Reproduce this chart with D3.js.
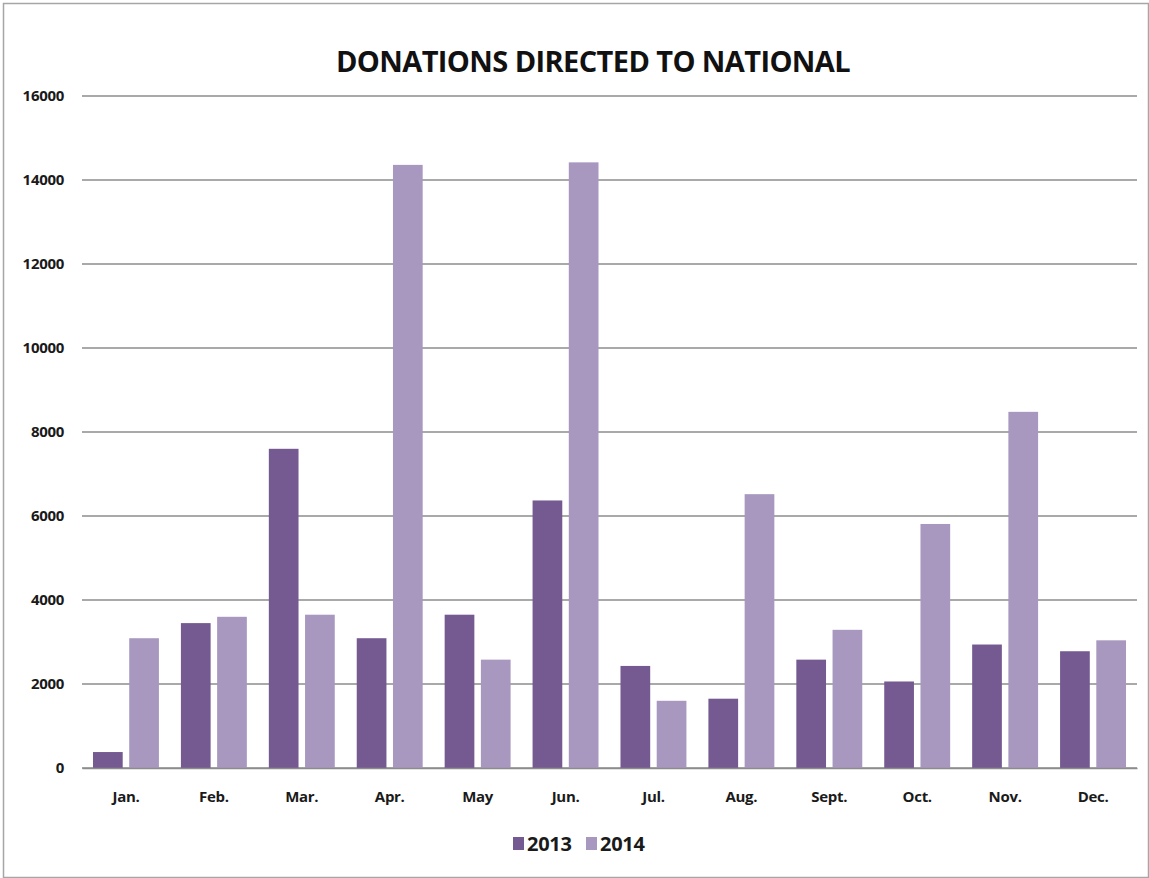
<!DOCTYPE html>
<html>
<head>
<meta charset="utf-8">
<script src="https://cdn.jsdelivr.net/npm/d3@7"></script>
<style>
  body { margin: 0; background: #fff; }
  text { font-family: 'Open Sans', 'DejaVu Sans', sans-serif; }
</style>
</head>
<body>
<div id="viz"></div>
<script>
(function donationsChart() {
  const width = 1149;
  const height = 878;
  const margin = { top: 96, right: 12, bottom: 110, left: 82 };

  const darkColor = '#755a92';
  const lightColor = '#a898c0';
  const gridColor = '#8c8c8c';
  const textColor = '#1a1a1a';

  const months = ['Jan.', 'Feb.', 'Mar.', 'Apr.', 'May', 'Jun.', 'Jul.', 'Aug.', 'Sept.', 'Oct.', 'Nov.', 'Dec.'];
  const series = ['2013', '2014'];
  const values2013 = [380, 3450, 7600, 3090, 3650, 6370, 2430, 1650, 2580, 2060, 2940, 2780];
  const values2014 = [3090, 3600, 3650, 14360, 2580, 14420, 1600, 6520, 3290, 5810, 8480, 3040];
  const yTicks = [0, 2000, 4000, 6000, 8000, 10000, 12000, 14000, 16000];

  const rows = months.map((m, i) => ({ month: m, '2013': values2013[i], '2014': values2014[i] }));

  const svg = d3.select('#viz').append('svg')
    .attr('width', width)
    .attr('height', height);

  // frame
  svg.append('rect')
    .attr('x', 3.5)
    .attr('y', 3.5)
    .attr('width', width - 4)
    .attr('height', height - 4)
    .attr('fill', 'none')
    .attr('stroke', '#a6a6a6')
    .attr('stroke-width', 1.5);

  const x = d3.scaleBand()
    .domain(months)
    .range([margin.left, width - margin.right])
    .paddingInner(0.25)
    .paddingOuter(0.125);

  const xSub = d3.scaleBand()
    .domain(series)
    .range([0, x.bandwidth()])
    .paddingInner(0.18);

  const y = d3.scaleLinear()
    .domain([0, 16000])
    .range([height - margin.bottom, margin.top]);

  const color = d3.scaleOrdinal().domain(series).range([darkColor, lightColor]);

  // gridlines
  svg.append('g')
    .selectAll('line')
    .data(yTicks)
    .enter()
    .append('line')
    .attr('x1', margin.left)
    .attr('x2', width - margin.right)
    .attr('y1', d => y(d))
    .attr('y2', d => y(d))
    .attr('stroke', gridColor)
    .attr('stroke-width', 1.5);

  // y labels
  svg.append('g')
    .selectAll('text')
    .data(yTicks)
    .enter()
    .append('text')
    .attr('x', 64)
    .attr('y', d => y(d) + 5)
    .attr('text-anchor', 'end')
    .style('font-size', '15px')
    .style('font-weight', 'bold')
    .style('letter-spacing', '-0.3px')
    .style('fill', textColor)
    .text(d => d);

  // bars
  const groups = svg.append('g')
    .selectAll('g')
    .data(rows)
    .enter()
    .append('g')
    .attr('transform', d => `translate(${x(d.month)},0)`);

  groups.selectAll('rect')
    .data(d => series.map(s => ({ key: s, value: d[s] })))
    .enter()
    .append('rect')
    .attr('x', d => xSub(d.key))
    .attr('y', d => y(d.value))
    .attr('width', xSub.bandwidth())
    .attr('height', d => y(0) - y(d.value))
    .attr('fill', d => color(d.key));

  // x axis
  const xAxis = svg.append('g')
    .attr('transform', `translate(0,${y(0)})`)
    .call(d3.axisBottom(x).tickSize(0).tickPadding(23));
  xAxis.select('.domain').attr('stroke', gridColor).attr('stroke-width', 1.5);
  xAxis.selectAll('text')
    .style('font-family', "'Open Sans', 'DejaVu Sans', sans-serif")
    .style('font-size', '15px')
    .style('font-weight', 'bold')
    .style('letter-spacing', '-0.3px')
    .style('fill', textColor);

  // title
  svg.append('text')
    .attr('x', 593)
    .attr('y', 72)
    .attr('text-anchor', 'middle')
    .style('font-size', '29px')
    .style('font-weight', 'bold')
    .style('letter-spacing', '-0.6px')
    .style('fill', '#111')
    .text('DONATIONS DIRECTED TO NATIONAL');

  // legend
  const legend = svg.append('g')
    .selectAll('g')
    .data(series)
    .enter()
    .append('g')
    .attr('transform', (d, i) => `translate(${513 + i * 73},837)`);

  legend.append('rect')
    .attr('width', 11)
    .attr('height', 13)
    .attr('fill', d => color(d));

  legend.append('text')
    .attr('x', 14)
    .attr('y', 14)
    .style('font-size', '20px')
    .style('font-weight', 'bold')
    .style('letter-spacing', '-0.3px')
    .style('fill', textColor)
    .text(d => d);
}());
</script>
</body>
</html>
